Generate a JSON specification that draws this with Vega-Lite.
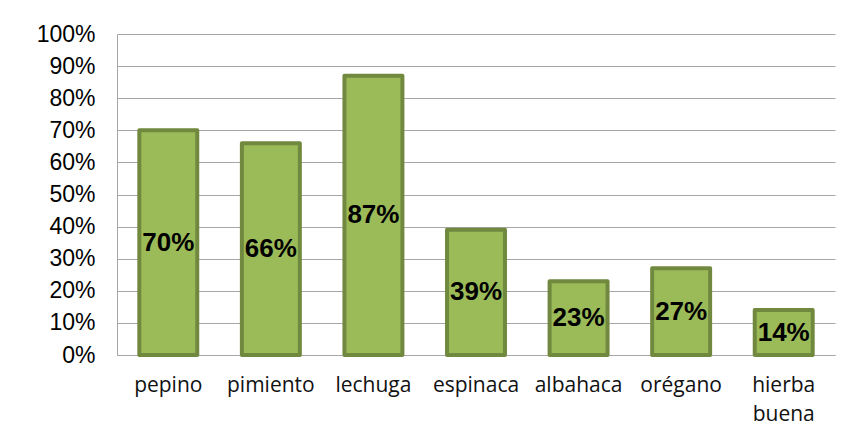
{
  "$schema": "https://vega.github.io/schema/vega-lite/v6.json",
  "width": 718,
  "height": 321,
  "autosize": {"type": "none"},
  "padding": {"left": 117, "top": 34, "right": 18, "bottom": 86},
  "background": "white",
  "config": {"view": {"stroke": null}},
  "data": {"values": [
    {"cat": "pepino", "v": 0.70},
    {"cat": "pimiento", "v": 0.66},
    {"cat": "lechuga", "v": 0.87},
    {"cat": "espinaca", "v": 0.39},
    {"cat": "albahaca", "v": 0.23},
    {"cat": "orégano", "v": 0.27},
    {"cat": "hierba buena", "v": 0.14}
  ]},
  "encoding": {
    "x": {
      "field": "cat", "type": "nominal", "sort": null,
      "scale": {"paddingInner": 0.435, "paddingOuter": 0.2175},
      "axis": {
        "title": null, "labelAngle": 0, "ticks": false,
        "domainColor": "#A6A6A6", "domainWidth": 1,
        "labelFont": "Open Sans", "labelFontSize": 21, "labelColor": "#111111",
        "labelPadding": 19, "labelLineHeight": 29, "labelBaseline": "top",
        "labelExpr": "datum.label == 'hierba buena' ? ['hierba', 'buena'] : datum.label"
      }
    }
  },
  "layer": [
    {
      "mark": {"type": "bar", "color": "#9BBB59", "stroke": "#71893F", "strokeWidth": 4, "strokeJoin": "round"},
      "encoding": {
        "y": {
          "field": "v", "type": "quantitative",
          "scale": {"domain": [0, 1]},
          "axis": {
            "title": null, "values": [0,0.1,0.2,0.3,0.4,0.5,0.6,0.7,0.8,0.9,1],
            "format": ".0%",
            "ticks": false, "domainColor": "#A6A6A6", "gridColor": "#A6A6A6", "grid": true,
            "labelFont": "Liberation Sans", "labelFontSize": 23, "labelColor": "#000000",
            "labelPadding": 22
          }
        }
      }
    },
    {
      "mark": {"type": "text", "font": "Liberation Sans", "fontSize": 26, "fontWeight": "bold", "color": "#000000", "baseline": "middle"},
      "encoding": {
        "y": {"field": "v", "type": "quantitative", "scale": {"domain": [0, 2]}, "axis": null},
        "text": {"field": "v", "type": "quantitative", "format": ".0%"}
      }
    }
  ],
  "resolve": {"scale": {"y": "independent"}}
}
